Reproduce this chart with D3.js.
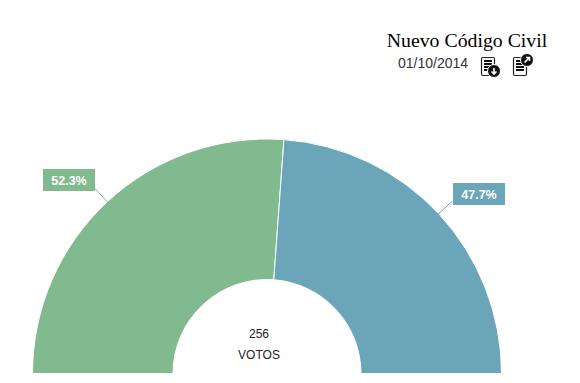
<!DOCTYPE html>
<html>
<head>
<meta charset="utf-8">
<script src="https://cdn.jsdelivr.net/npm/d3@7"></script>
<style>
  body { margin: 0; background: #fff; }
  svg { display: block; }
  text { font-family: "Liberation Sans", Arial, sans-serif; }
</style>
</head>
<body>
<div class="chart"></div>
<script>
const categories = ["A favor", "En contra"];
const shares = [52.3, 47.7];
const colors = ["#82ba8f", "#6ba5b9"];
const totalVotes = "256";
const totalLabel = "VOTOS";
const title = "Nuevo Código Civil";
const dateLabel = "01/10/2014";

const svgWidth = 580;
const svgHeight = 383;
const center = { x: 267, y: 373.5 };
const outerRadius = 234.5;
const innerRadius = 94;
const leaderLength = 18;
const box = { width: 52, height: 22 };

const svg = d3.select(".chart")
  .append("svg")
  .attr("width", svgWidth)
  .attr("height", svgHeight);

// half donut, left to right
const pie = d3.pie()
  .sort(null)
  .value(d => d.share)
  .startAngle(-Math.PI / 2)
  .endAngle(Math.PI / 2);

const arc = d3.arc()
  .innerRadius(innerRadius)
  .outerRadius(outerRadius);

const data = categories.map((name, i) => ({ name, share: shares[i], color: colors[i] }));
const slices = pie(data);

const chartGroup = svg.append("g")
  .attr("transform", `translate(${center.x}, ${center.y})`);

chartGroup.selectAll("path.slice")
  .data(slices)
  .enter()
  .append("path")
  .attr("class", "slice")
  .attr("d", arc)
  .attr("fill", d => d.data.color)
  .attr("stroke", "#fff")
  .attr("stroke-width", 1);

// leader lines go out from the middle of each slice
const polar = (angle, r) => [Math.sin(angle) * r, -Math.cos(angle) * r];
const midAngle = d => (d.startAngle + d.endAngle) / 2;

chartGroup.selectAll("line.leader")
  .data(slices)
  .enter()
  .append("line")
  .attr("class", "leader")
  .attr("x1", d => polar(midAngle(d), outerRadius - 1)[0])
  .attr("y1", d => polar(midAngle(d), outerRadius - 1)[1])
  .attr("x2", d => polar(midAngle(d), outerRadius + leaderLength)[0])
  .attr("y2", d => polar(midAngle(d), outerRadius + leaderLength)[1])
  .attr("stroke", d => d.data.color)
  .attr("stroke-width", 1);

const labels = chartGroup.selectAll("g.label")
  .data(slices)
  .enter()
  .append("g")
  .attr("class", "label")
  .attr("transform", d => {
    const [x, y] = polar(midAngle(d), outerRadius + leaderLength);
    const left = midAngle(d) < 0;
    return `translate(${Math.round(left ? x - box.width : x + 1.2)}, ${Math.round(center.y + y + (left ? -20 : -19)) - center.y})`;
  });

labels.append("rect")
  .attr("width", box.width)
  .attr("height", box.height)
  .attr("fill", d => d.data.color);

labels.append("text")
  .attr("x", box.width / 2)
  .attr("y", 15.5)
  .attr("text-anchor", "middle")
  .attr("fill", "#fff")
  .attr("font-size", 12.5)
  .attr("font-weight", "bold")
  .text(d => d.data.share.toFixed(1) + "%");

// centre of the donut
chartGroup.append("text")
  .attr("x", -8)
  .attr("y", -35.5)
  .attr("text-anchor", "middle")
  .attr("font-size", 12)
  .attr("fill", "#222")
  .text(totalVotes);

chartGroup.append("text")
  .attr("x", -8)
  .attr("y", -14.5)
  .attr("text-anchor", "middle")
  .attr("font-size", 12)
  .attr("fill", "#222")
  .text(totalLabel);

// header
svg.append("text")
  .attr("x", 467)
  .attr("y", 47)
  .attr("text-anchor", "middle")
  .style("font-family", '"Liberation Serif", Georgia, serif')
  .attr("font-size", 19.8)
  .attr("fill", "#000")
  .text(title);

svg.append("text")
  .attr("x", 433)
  .attr("y", 68)
  .attr("text-anchor", "middle")
  .attr("font-size", 14)
  .attr("fill", "#333")
  .text(dateLabel);

// document icons
function docIcon(x, y, badgeX, badgeY, arrow) {
  const g = svg.append("g").attr("transform", `translate(${x}, ${y})`);
  g.append("rect")
    .attr("x", 0.5).attr("y", 0.5)
    .attr("width", 13).attr("height", 18).attr("rx", 1.5)
    .attr("fill", "#fff").attr("stroke", "#222").attr("stroke-width", 1.2);
  [4, 7, 10, 13].forEach(ly => {
    g.append("line")
      .attr("x1", 3).attr("x2", 11)
      .attr("y1", ly).attr("y2", ly)
      .attr("stroke", "#111").attr("stroke-width", 2);
  });
  g.append("circle")
    .attr("cx", badgeX).attr("cy", badgeY).attr("r", 6.5)
    .attr("fill", "#111").attr("stroke", "#fff").attr("stroke-width", 1);
  g.append("path")
    .attr("d", arrow)
    .attr("transform", `translate(${badgeX}, ${badgeY})`)
    .attr("fill", "none").attr("stroke", "#fff").attr("stroke-width", 1.6);
}

docIcon(481, 57, 13, 14, "M0,-3V2.5M-2.5,0.5L0,3L2.5,0.5");
docIcon(513, 57, 14, 3, "M-2.5,2.5L2.5,-2.5M-1,-2.5H2.5V1");
</script>
</body>
</html>
